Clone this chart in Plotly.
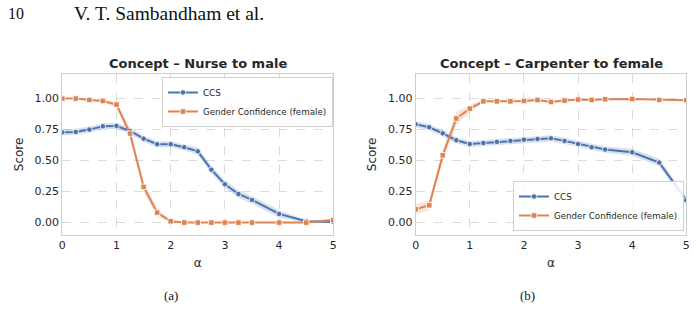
import plotly.graph_objects as go

alpha = [0, 0.25, 0.5, 0.75, 1.0, 1.25, 1.5, 1.75, 2.0, 2.25, 2.5, 2.75, 3.0, 3.25, 3.5, 4.0, 4.5, 5.0]

# Panel (a): Nurse to male
a_ccs = [0.728, 0.731, 0.750, 0.777, 0.780, 0.739, 0.677, 0.632, 0.632, 0.608, 0.575, 0.427, 0.309, 0.231, 0.183, 0.070, 0.011, 0.005]
a_ccs_ci = [0.025, 0.025, 0.025, 0.025, 0.025, 0.025, 0.025, 0.025, 0.025, 0.025, 0.028, 0.03, 0.03, 0.03, 0.03, 0.03, 0.01, 0.01]
a_gen = [1.0, 1.0, 0.989, 0.981, 0.952, 0.718, 0.288, 0.081, 0.011, 0.0, 0.0, 0.0, 0.0, 0.0, 0.0, 0.0, 0.0, 0.02]
a_gen_ci = [0.004, 0.004, 0.008, 0.01, 0.025, 0.04, 0.045, 0.03, 0.01, 0.003, 0.003, 0.003, 0.003, 0.003, 0.003, 0.003, 0.005, 0.015]

# Panel (b): Carpenter to female
b_ccs = [0.793, 0.769, 0.720, 0.664, 0.634, 0.642, 0.651, 0.659, 0.669, 0.675, 0.680, 0.659, 0.634, 0.608, 0.589, 0.567, 0.484, 0.180]
b_ccs_ci = [0.025, 0.025, 0.025, 0.025, 0.025, 0.025, 0.025, 0.025, 0.025, 0.025, 0.025, 0.025, 0.025, 0.025, 0.025, 0.028, 0.03, 0.03]
b_gen = [0.108, 0.140, 0.543, 0.839, 0.919, 0.978, 0.978, 0.978, 0.981, 0.989, 0.973, 0.984, 0.992, 0.989, 0.995, 0.997, 0.989, 0.987]
b_gen_ci = [0.04, 0.04, 0.05, 0.05, 0.03, 0.012, 0.008, 0.008, 0.008, 0.008, 0.008, 0.008, 0.006, 0.006, 0.005, 0.004, 0.006, 0.008]

titles = ["Concept – Nurse to male", "Concept – Carpenter to female"]
captions = ["(a)", "(b)"]
series_names = ["CCS", "Gender Confidence (female)"]
y_ticks = [0, 0.25, 0.5, 0.75, 1.0]
x_ticks = [0, 1, 2, 3, 4, 5]

BLUE = "#4C72B0"
ORANGE = "#DD8452"
BLUE_BAND = "rgba(76,114,176,0.22)"
ORANGE_BAND = "rgba(221,132,82,0.22)"
TXT = "#262626"
W, H = 696, 311

fig = go.Figure()

panels = [
    (a_ccs, a_ccs_ci, a_gen, a_gen_ci, "x", "y", "legend"),
    (b_ccs, b_ccs_ci, b_gen, b_gen_ci, "x2", "y2", "legend2"),
]

for ccs, ccs_ci, gen, gen_ci, xa, ya, lg in panels:
    for vals, ci, band in [(ccs, ccs_ci, BLUE_BAND), (gen, gen_ci, ORANGE_BAND)]:
        upper = [v + c for v, c in zip(vals, ci)]
        lower = [v - c for v, c in zip(vals, ci)]
        fig.add_trace(go.Scatter(x=alpha, y=upper, mode="lines", line=dict(width=0),
                                 showlegend=False, hoverinfo="skip", xaxis=xa, yaxis=ya))
        fig.add_trace(go.Scatter(x=alpha, y=lower, mode="lines", line=dict(width=0),
                                 fill="tonexty", fillcolor=band,
                                 showlegend=False, hoverinfo="skip", xaxis=xa, yaxis=ya))
    for vals, color, sym, name in [
        (ccs, BLUE, "circle", series_names[0]),
        (gen, ORANGE, "square", series_names[1]),
    ]:
        fig.add_trace(go.Scatter(x=alpha, y=vals, mode="lines+markers", name=name,
                                 line=dict(color=color, width=2),
                                 marker=dict(symbol=sym, size=5.5, color=color,
                                             line=dict(color="white", width=0.8)),
                                 xaxis=xa, yaxis=ya, legend=lg))

def px_x(p):
    return p / W

def px_y(p):
    return 1 - p / H

x_domains = [[px_x(62.3), px_x(333.3)], [px_x(415.7), px_x(686.3)]]
y_domain = [px_y(235.0), px_y(73.8)]

axis_common = dict(showgrid=True, gridcolor="#dcdcdc", griddash="dash", gridwidth=0.8,
                   showline=True, linecolor="#cfcfcf", linewidth=1, mirror=True,
                   zeroline=False, ticks="", automargin=False,
                   tickfont=dict(family="DejaVu Sans", size=11, color=TXT),
                   title_font=dict(family="DejaVu Sans", size=12, color=TXT))

fig.update_layout(
    xaxis=dict(domain=x_domains[0], range=[0, 5], tickvals=x_ticks, anchor="y",
               title=dict(text="α", standoff=7), **axis_common),
    yaxis=dict(domain=y_domain, range=[-0.1, 1.2], tickvals=y_ticks, tickformat=".2f", anchor="x",
               title=dict(text="Score", standoff=8), **axis_common),
    xaxis2=dict(domain=x_domains[1], range=[0, 5], tickvals=x_ticks, anchor="y2",
                title=dict(text="α", standoff=7), **axis_common),
    yaxis2=dict(domain=y_domain, range=[-0.1, 1.2], tickvals=y_ticks, tickformat=".2f", anchor="x2",
                title=dict(text="Score", standoff=8), **axis_common),
)

legend_common = dict(bgcolor="rgba(255,255,255,0.85)", bordercolor="#d0d0d0", borderwidth=1,
                     font=dict(family="DejaVu Sans", size=8.7, color=TXT), itemwidth=30,
                     tracegroupgap=0, traceorder="normal")
fig.update_layout(
    legend=dict(x=px_x(333), y=px_y(77), xanchor="right", yanchor="top", **legend_common),
    legend2=dict(x=px_x(684), y=px_y(231), xanchor="right", yanchor="bottom", **legend_common),
)

annotations = []
for i, t in enumerate(titles):
    cx = (x_domains[i][0] + x_domains[i][1]) / 2
    annotations.append(dict(text="<b>" + t + "</b>", x=cx, y=px_y(64), xref="paper", yref="paper",
                            xanchor="center", yanchor="middle", showarrow=False,
                            font=dict(family="DejaVu Sans", size=13, color=TXT)))
caption_x = [171, 527]
for i, c in enumerate(captions):
    annotations.append(dict(text=c, x=px_x(caption_x[i]), y=px_y(295), xref="paper", yref="paper",
                            xanchor="center", yanchor="middle", showarrow=False,
                            font=dict(family="Liberation Serif", size=13, color="#111111")))
annotations.append(dict(text="10", x=px_x(6), y=px_y(14), xref="paper", yref="paper",
                        xanchor="left", yanchor="middle", showarrow=False,
                        font=dict(family="Liberation Serif", size=16, color="#111111")))
annotations.append(dict(text="V. T. Sambandham et al.", x=px_x(72), y=px_y(14), xref="paper", yref="paper",
                        xanchor="left", yanchor="middle", showarrow=False,
                        font=dict(family="Liberation Serif", size=19.5, color="#111111")))

fig.update_layout(annotations=annotations, width=W, height=H,
                  margin=dict(l=0, r=0, t=0, b=0),
                  paper_bgcolor="white", plot_bgcolor="white", showlegend=True)

fig.write_html("out.html", config={"displayModeBar": False})
